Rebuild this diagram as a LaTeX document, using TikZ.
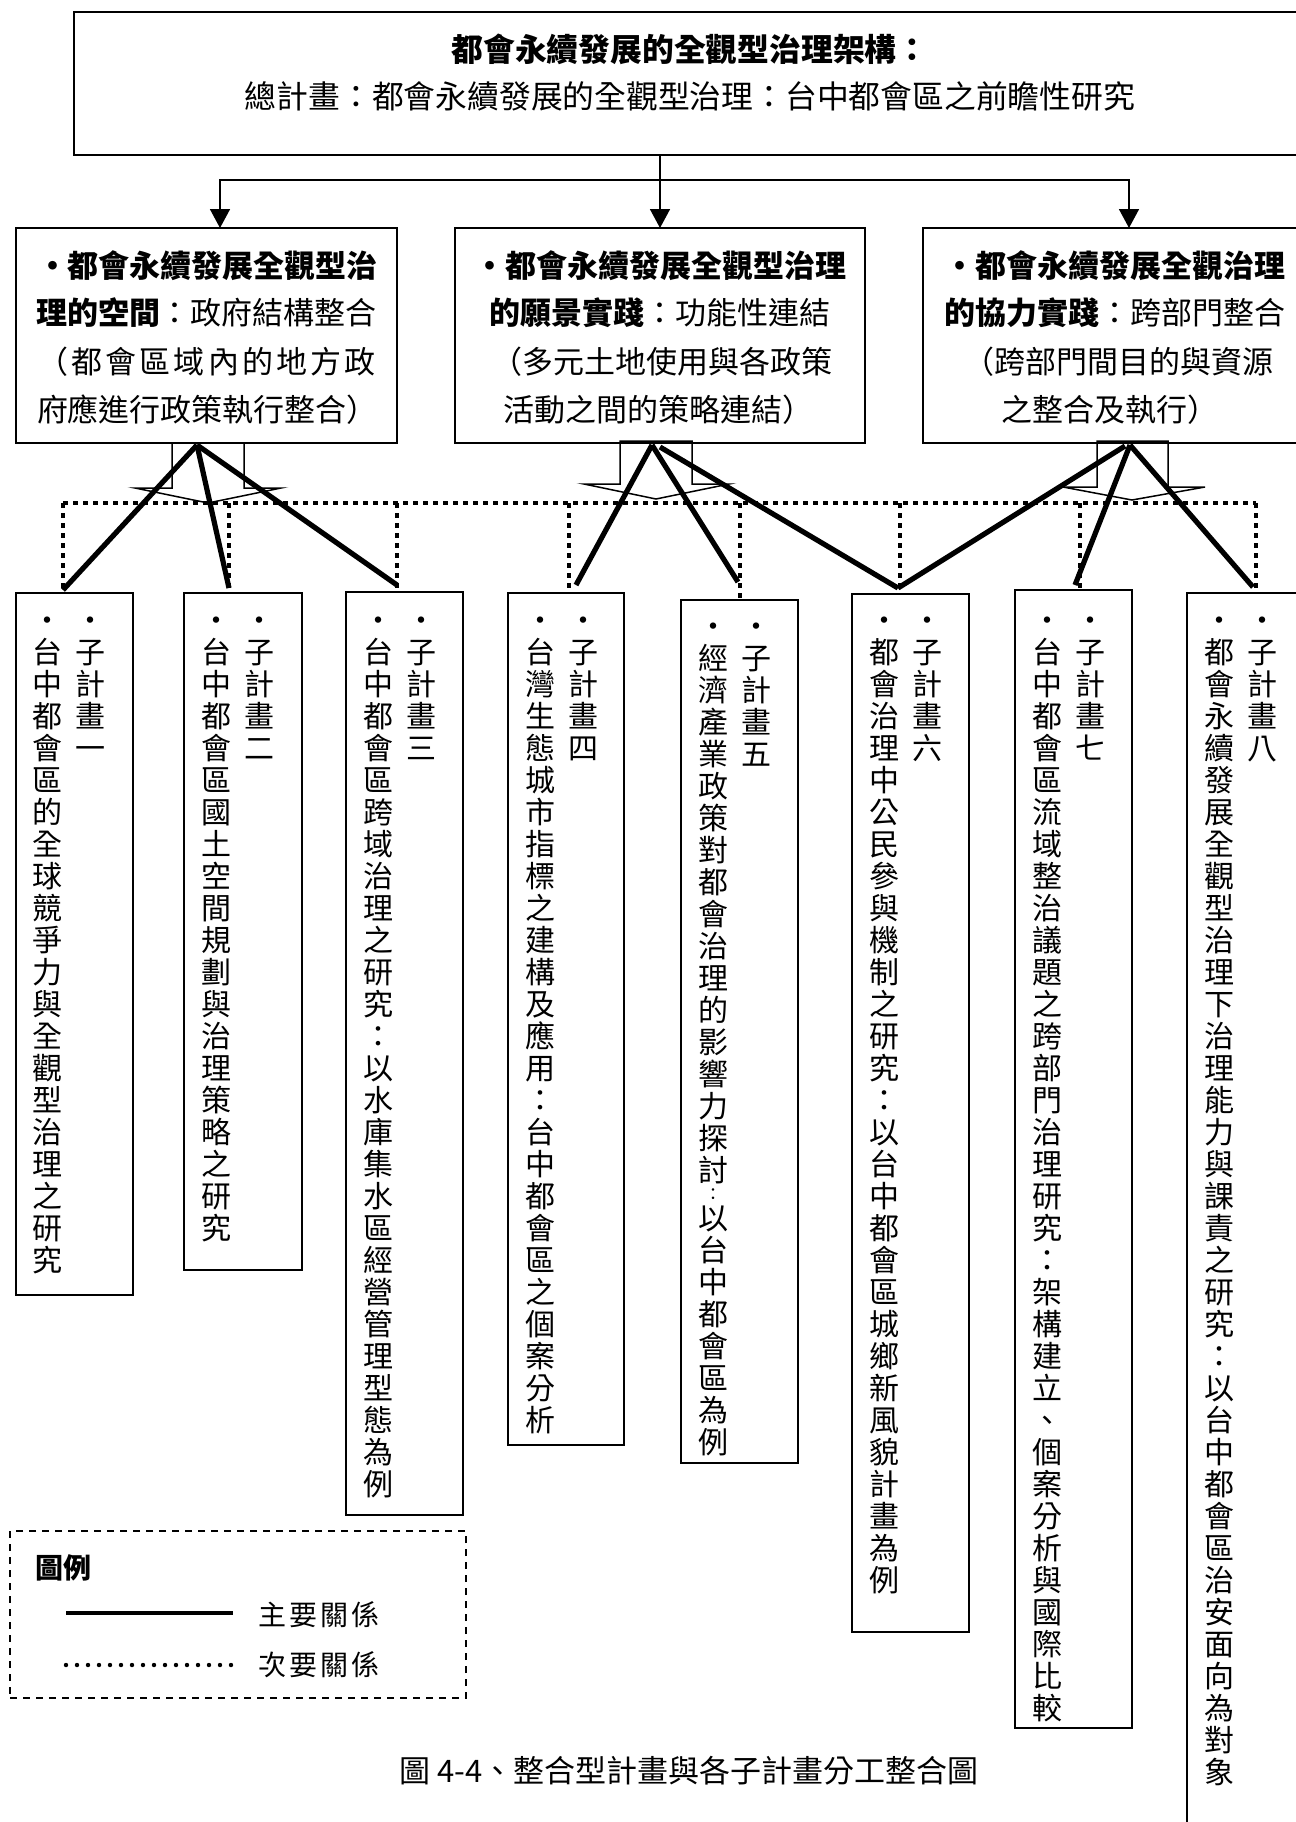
\documentclass[tikz,border=0pt]{standalone}
\usepackage{fontspec}
\usetikzlibrary{arrows.meta,calc}
\newfontfamily\cjk{Noto Sans CJK TC}
\makeatletter
\def\vs@hc{\hc}
\newcommand\hc{：}
\newcommand\vstack[1]{\vtop{\baselineskip=16pt\lineskiplimit=-\maxdimen\lineskip=0pt\@tfor\vs@c:=#1\do{\ifx\vs@c\vs@hc\vskip-4pt\hbox to 16pt{\hss\raisebox{2.3pt}{\fontsize{8.5pt}{9pt}\selectfont ：}\hss}\vskip-4pt\else\hbox to 16pt{\hss\vs@c\hss}\fi}}}
\newcommand\jspread[1]{\let\js@sep\relax\@tfor\js@c:=#1\do{\js@sep\js@c\let\js@sep\hfill}}
\makeatother
\newcommand\ft{\cjk\fontsize{15.9pt}{16pt}\selectfont}
\newcommand\fh{\cjk\fontsize{15.5pt}{16pt}\selectfont}
\newcommand\fv{\cjk\fontsize{15pt}{16pt}\selectfont}
\newcommand\fl{\cjk\fontsize{14pt}{16pt}\selectfont}
\begin{document}
\begin{tikzpicture}[x=0.5pt,y=-0.5pt,
  box/.style={draw,line width=1pt,inner sep=0pt,outer sep=0pt,anchor=north west},
  sz/.style 2 args={minimum width=#1*0.5pt,minimum height=#2*0.5pt},
  ht/.style={font=\fh,inner sep=0pt,anchor=base},
  tt/.style={font=\ft,inner sep=0pt,anchor=base},
  vt/.style={font=\fv,inner sep=0pt,anchor=base},
  lt/.style={font=\fl,inner sep=0pt,anchor=base},
  arr/.style={line width=0.8pt,-{Triangle[length=9.5pt,width=10pt]}},
  conn/.style={line width=0.8pt},
  blk/.style={line width=0.75pt,line join=miter},
  mainrel/.style={line width=2.6pt,line cap=butt},
  secrel/.style={line width=2pt,dash pattern=on 2.5pt off 2.5pt},
  ]
\useasboundingbox (0,0) rectangle (1296,1822);
\clip (0,0) rectangle (1296,1822);
\fill[white] (0,0) rectangle (1296,1822);

% ---------- top box ----------
\node[box,sz={1232}{143}] (T) at (74,12) {};
\node[tt] (t1) at (690,61) {\bfseries 都會永續發展的全觀型治理架構：};
\node[tt] (t2) at (690,108) {總計畫：都會永續發展的全觀型治理：台中都會區之前瞻性研究};

% ---------- level-2 boxes ----------
\node[box,sz={381}{215}] (A) at (16,228) {};
\node[box,sz={410}{215}] (B) at (455,228) {};
\node[box,sz={384}{215}] (C) at (923,228) {};

\node[ht] (a1) at (206.5,277) {\hbox to 169.5pt{\bfseries\jspread{•都會永續發展全觀型治}}};
\node[ht] (a2) at (206.5,324) {\hbox to 169.5pt{\hss\textbf{理的空間}：政府結構整合\hss}};
\node[ht] (a3) at (206.5,373) {\hbox to 169.5pt{\jspread{（都會區域內的地方政}}};
\node[ht] (a4) at (206.5,421) {\hbox to 169.5pt{\jspread{府應進行政策執行整合）}}};

\node[ht] (b1) at (660,277) {\bfseries •都會永續發展全觀型治理};
\node[ht] (b2) at (660,324) {\textbf{的願景實踐}：功能性連結};
\node[ht] (b3) at (662,373) {（多元土地使用與各政策};
\node[ht] (b4) at (658,421) {活動之間的策略連結）};

\node[ht] (c1) at (1115,277) {\bfseries •都會永續發展全觀治理};
\node[ht] (c2) at (1115,324) {\textbf{的協力實踐}：跨部門整合};
\node[ht] (c3) at (1118,373) {（跨部門間目的與資源};
\node[ht] (c4) at (1110,421) {之整合及執行）};

% ---------- connectors from top box ----------
\coordinate (j) at (660,180);
\coordinate (aA) at (220,228);
\coordinate (aC) at (1129,228);
\draw[conn] (T.south -| j) -- (j);
\draw[arr] (j) -| (aA);
\draw[arr] (j) -| (aC);
\draw[arr] (j) -- (B.north);

% ---------- sub-project boxes ----------
\node[box,sz={117}{702}]  (s1) at (16,593) {};
\node[box,sz={118}{677}]  (s2) at (184,593) {};
\node[box,sz={117}{923}]  (s3) at (346,592) {};
\node[box,sz={116}{852}]  (s4) at (508,593) {};
\node[box,sz={117}{863}]  (s5) at (681,600) {};
\node[box,sz={117}{1038}] (s6) at (852,594) {};
\node[box,sz={117}{1138}] (s7) at (1015,590) {};
\node[box,sz={118}{1260}] (s8) at (1187,593) {};

% vertical texts (right column: project number, left column: title)
\node[vt] (r1) at (91,631.4)  {\vstack{•子計畫一}};
\node[vt] (l1) at (48,631.4)  {\vstack{•台中都會區的全球競爭力與全觀型治理之研究}};
\node[vt] (r2) at (259,631.4) {\vstack{•子計畫二}};
\node[vt] (l2) at (216,631.4) {\vstack{•台中都會區國土空間規劃與治理策略之研究}};
\node[vt] (r3) at (421,631.4) {\vstack{•子計畫三}};
\node[vt] (l3) at (378,631.4) {\vstack{•台中都會區跨域治理之研究：以水庫集水區經營管理型態為例}};
\node[vt] (r4) at (583,631.4) {\vstack{•子計畫四}};
\node[vt] (l4) at (540,631.4) {\vstack{•台灣生態城市指標之建構及應用：台中都會區之個案分析}};
\node[vt] (r5) at (756,637.4) {\vstack{•子計畫五}};
\node[vt] (l5) at (713,637.4) {\vstack{•經濟產業政策對都會治理的影響力探討\hc 以台中都會區為例}};
\node[vt] (r6) at (927,631.4) {\vstack{•子計畫六}};
\node[vt] (l6) at (884,631.4) {\vstack{•都會治理中公民參與機制之研究：以台中都會區城鄉新風貌計畫為例}};
\node[vt] (r7) at (1090,631.4) {\vstack{•子計畫七}};
\node[vt] (l7) at (1047,631.4) {\vstack{•台中都會區流域整治議題之跨部門治理研究：架構建立、個案分析與國際比較}};
\node[vt] (r8) at (1262,631.4) {\vstack{•子計畫八}};
\node[vt] (l8) at (1219,631.4) {\vstack{•都會永續發展全觀型治理下治理能力與課責之研究：以台中都會區治安面向為對象}};

% ---------- hollow block arrows ----------
\draw[blk] (172,443) -- (172,488) -- (135,488) -- (208,503) -- (281,488) -- (244,488) -- (244,443);
\draw[blk] (620,441) -- (620,484) -- (584,484) -- (656,499) -- (729,484) -- (692,484) -- (692,441) -- cycle;
\draw[blk] (1097,441) -- (1097,487) -- (1063,487) -- (1132,500) -- (1205,487) -- (1168,487) -- (1168,441) -- cycle;

% ---------- secondary relations (dotted) ----------
\coordinate (d1) at (63,503);
\coordinate (d2) at (229,503);
\coordinate (d3) at (397,503);
\coordinate (d4) at (569,503);
\coordinate (d5) at (740,503);
\coordinate (d6) at (900,503);
\coordinate (d7) at (1080,503);
\coordinate (d8) at (1256,503);
\draw[secrel] (d1) -- (d8);
\draw[secrel] (d1) -- (d1 |- s1.north);
\draw[secrel] (d2) -- (d2 |- s2.north);
\draw[secrel] (d3) -- (d3 |- s3.north);
\draw[secrel] (d4) -- (d4 |- s4.north);
\draw[secrel] (d5) -- (d5 |- s5.north);
\draw[secrel] (d6) -- (d6 |- s6.north);
\draw[secrel] (d7) -- (d7 |- s7.north);
\draw[secrel] (d8) -- (d8 |- s8.north);

% ---------- main relations (solid) ----------
\coordinate (pA) at (197,445);
\coordinate (pB) at (652,445);
\coordinate (pB2) at (660,447);
\coordinate (pC) at (1130,445);
\coordinate (pC2) at (1125,446);
\coordinate (e1) at (63,590);
\coordinate (e2) at (229,588);
\coordinate (e3) at (397,585);
\coordinate (e4) at (576,585);
\coordinate (e5) at (738,582);
\coordinate (e6) at (898,588);
\coordinate (e7) at (1075,585);
\coordinate (e8) at (1253,587);
\draw[mainrel] (pA) -- (e1);
\draw[mainrel] (pA) -- (e2);
\draw[mainrel] (pA) -- (e3);
\draw[mainrel] (pB) -- (e4);
\draw[mainrel] (pB) -- (e5);
\draw[mainrel] (pB2) -- (e6);
\draw[mainrel] (pC2) -- (e6);
\draw[mainrel] (pC) -- (e7);
\draw[mainrel] (pC) -- (e8);

% ---------- legend ----------
\node[box,sz={456}{167},dash pattern=on 3.5pt off 3pt] (L) at (10,1531) {};
\node[lt,font={\fl\bfseries}] (lg) at (63.5,1578) {圖例};
\coordinate (m1) at (66,1613);
\coordinate (m2) at (233,1613);
\draw[line width=2pt] (m1) -- (m2);
\node[lt] (lm) at (319,1625) {\hbox to 61pt{\jspread{主要關係}}};
\coordinate (n1) at (66,1665);
\coordinate (n2) at (233,1665);
\draw[line width=2.2pt,line cap=round,dash pattern=on 0pt off 5.5pt] (n1) -- (n2);
\node[lt] (ls) at (319,1675) {\hbox to 61pt{\jspread{次要關係}}};

% ---------- caption ----------
\node[ht] (cap) at (689,1782) {圖 4-4、整合型計畫與各子計畫分工整合圖};
\end{tikzpicture}
\end{document}
